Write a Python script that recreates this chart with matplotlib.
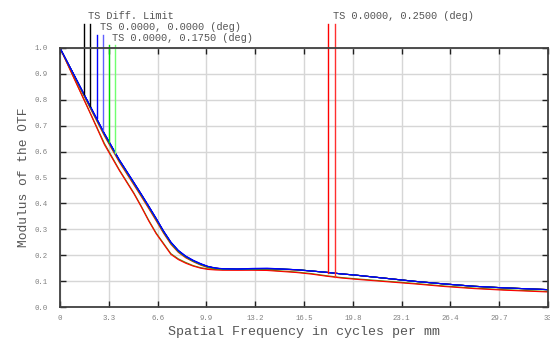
import numpy as np
import matplotlib
matplotlib.use("Agg")
import matplotlib.pyplot as plt

# ---- data ----
freq = [0, 1, 2, 3, 4, 5, 5.5, 6, 6.5, 7, 7.5, 8, 8.5, 9, 9.5, 10, 10.5, 11,
        12, 13, 14, 15, 16, 17, 18, 19, 20, 22, 24, 26, 28, 30, 33]

diff_T = [1.000, 0.890, 0.779, 0.669, 0.568, 0.479, 0.434, 0.388, 0.341, 0.292, 0.249, 0.217, 0.195, 0.179, 0.166, 0.156, 0.150, 0.147,
          0.146, 0.147, 0.148, 0.146, 0.144, 0.139, 0.134, 0.128, 0.123, 0.111, 0.099, 0.089, 0.080, 0.074, 0.067]
diff_S = diff_T
blue_T = [1.000, 0.891, 0.781, 0.671, 0.570, 0.481, 0.436, 0.390, 0.343, 0.294, 0.251, 0.219, 0.197, 0.181, 0.168, 0.157, 0.151, 0.148,
          0.147, 0.149, 0.150, 0.147, 0.144, 0.139, 0.134, 0.128, 0.123, 0.111, 0.099, 0.089, 0.080, 0.074, 0.067]
blue_S = [1.000, 0.890, 0.779, 0.669, 0.568, 0.479, 0.434, 0.388, 0.341, 0.292, 0.249, 0.217, 0.195, 0.179, 0.166, 0.156, 0.150, 0.147,
          0.146, 0.147, 0.148, 0.146, 0.144, 0.139, 0.134, 0.128, 0.123, 0.111, 0.099, 0.089, 0.080, 0.074, 0.067]
green_T = [1.000, 0.888, 0.776, 0.666, 0.565, 0.476, 0.431, 0.385, 0.338, 0.289, 0.246, 0.214, 0.193, 0.177, 0.164, 0.154, 0.148, 0.146,
           0.145, 0.146, 0.147, 0.146, 0.144, 0.139, 0.134, 0.128, 0.123, 0.111, 0.099, 0.089, 0.080, 0.074, 0.067]
green_S = [1.000, 0.878, 0.755, 0.632, 0.531, 0.440, 0.389, 0.335, 0.286, 0.246, 0.206, 0.186, 0.172, 0.160, 0.152, 0.147, 0.145, 0.144,
           0.144, 0.144, 0.143, 0.139, 0.135, 0.129, 0.121, 0.114, 0.109, 0.100, 0.091, 0.081, 0.073, 0.067, 0.060]
red_T = [1.000, 0.886, 0.772, 0.661, 0.560, 0.471, 0.426, 0.380, 0.333, 0.285, 0.242, 0.211, 0.190, 0.175, 0.162, 0.152, 0.147, 0.145,
         0.144, 0.145, 0.146, 0.145, 0.143, 0.139, 0.134, 0.128, 0.123, 0.111, 0.099, 0.089, 0.080, 0.074, 0.067]
red_S = [1.000, 0.876, 0.753, 0.627, 0.528, 0.437, 0.386, 0.332, 0.283, 0.243, 0.203, 0.183, 0.169, 0.158, 0.150, 0.145, 0.143, 0.142,
         0.142, 0.142, 0.141, 0.137, 0.133, 0.127, 0.119, 0.112, 0.107, 0.098, 0.089, 0.079, 0.071, 0.065, 0.058]

legend_labels = ["TS Diff. Limit", "TS 0.0000, 0.0000 (deg)",
                 "TS 0.0000, 0.1750 (deg)", "TS 0.0000, 0.2500 (deg)"]
colors = ["#000000", "#0000ff", "#00e000", "#ff0000"]
colors_light = ["#000000", "#6060ff", "#70ff70", "#ff3030"]

xticks = [0, 3.3, 6.6, 9.9, 13.2, 16.5, 19.8, 23.1, 26.4, 29.7, 33]
xticklabels = ["0", "3.3", "6.6", "9.9", "13.2", "16.5", "19.8", "23.1", "26.4", "29.7", "33"]
yticks = [0.0, 0.1, 0.2, 0.3, 0.4, 0.5, 0.6, 0.7, 0.8, 0.9, 1.0]

# legend marker positions (frequency of the two vertical marks, top of mark)
legend_x = [(1.62, 2.03), (2.48, 2.89), (3.29, 3.72), (18.15, 18.6)]
legend_top = [1.094, 1.052, 1.013, 1.094]
legend_text_x = [1.9, 2.7, 3.5, 18.45]
legend_text_y = [1.122, 1.080, 1.038, 1.122]

# ---- plot ----
mono = "Liberation Mono"
fig = plt.figure(figsize=(5.5, 3.43), dpi=100)
ax = fig.add_axes([60 / 550, 36 / 343, 488 / 550, 259 / 343])

pairs = [(diff_T, diff_S), (blue_T, blue_S), (green_T, green_S), (red_T, red_S)]
lw = 0.8
ax.plot(freq, diff_T, color=colors[0], lw=lw)
ax.plot(freq, diff_S, color=colors[0], lw=lw)
ax.plot(freq, green_S, color="#5a8a00", lw=lw)
ax.plot(freq, red_S, color=colors[3], lw=lw)
ax.plot(freq, red_T, color=colors[3], lw=lw)
ax.plot(freq, green_T, color=colors[2], lw=lw)
ax.plot(freq, blue_S, color=colors[1], lw=lw)
ax.plot(freq, blue_T, color=colors[1], lw=lw)

# legend marks
for i, (T, S) in enumerate(pairs):
    x1, x2 = legend_x[i]
    y1 = np.interp(x1, freq, T)
    y2 = np.interp(x2, freq, S if i == 3 else T)
    ax.plot([x1, x1], [y1, legend_top[i]], color=colors[i], lw=1.0, clip_on=False)
    ax.plot([x2, x2], [y2, legend_top[i]], color=colors_light[i], lw=1.0, clip_on=False)
    ax.text(legend_text_x[i], legend_text_y[i], legend_labels[i], family=mono,
            fontsize=7.4, color="#555555", ha="left", va="center", clip_on=False)

ax.set_xlim(0, 33)
ax.set_ylim(0, 1.0)
ax.set_xticks(xticks)
ax.set_xticklabels(xticklabels)
ax.set_yticks(yticks)
ax.set_yticklabels([f"{v:.1f}" for v in yticks])
ax.grid(True, color="#d6d6d6", lw=1.0)
ax.set_axisbelow(True)
ax.tick_params(direction="in", length=4, width=1.0, color="#202020",
               top=True, right=True, labelsize=5.3, labelcolor="#808080")
ax.tick_params(axis="y", pad=9)
ax.tick_params(axis="x", pad=6)
for lab in ax.get_xticklabels() + ax.get_yticklabels():
    lab.set_family(mono)
for sp in ax.spines.values():
    sp.set_color("#404040")
    sp.set_linewidth(1.3)

ax.set_xlabel("Spatial Frequency in cycles per mm", family=mono, fontsize=9.6,
              color="#555555", labelpad=3)
ax.set_ylabel("Modulus of the OTF", family=mono, fontsize=9.3,
              color="#555555", labelpad=3)

fig.savefig("out.png", dpi=100)
